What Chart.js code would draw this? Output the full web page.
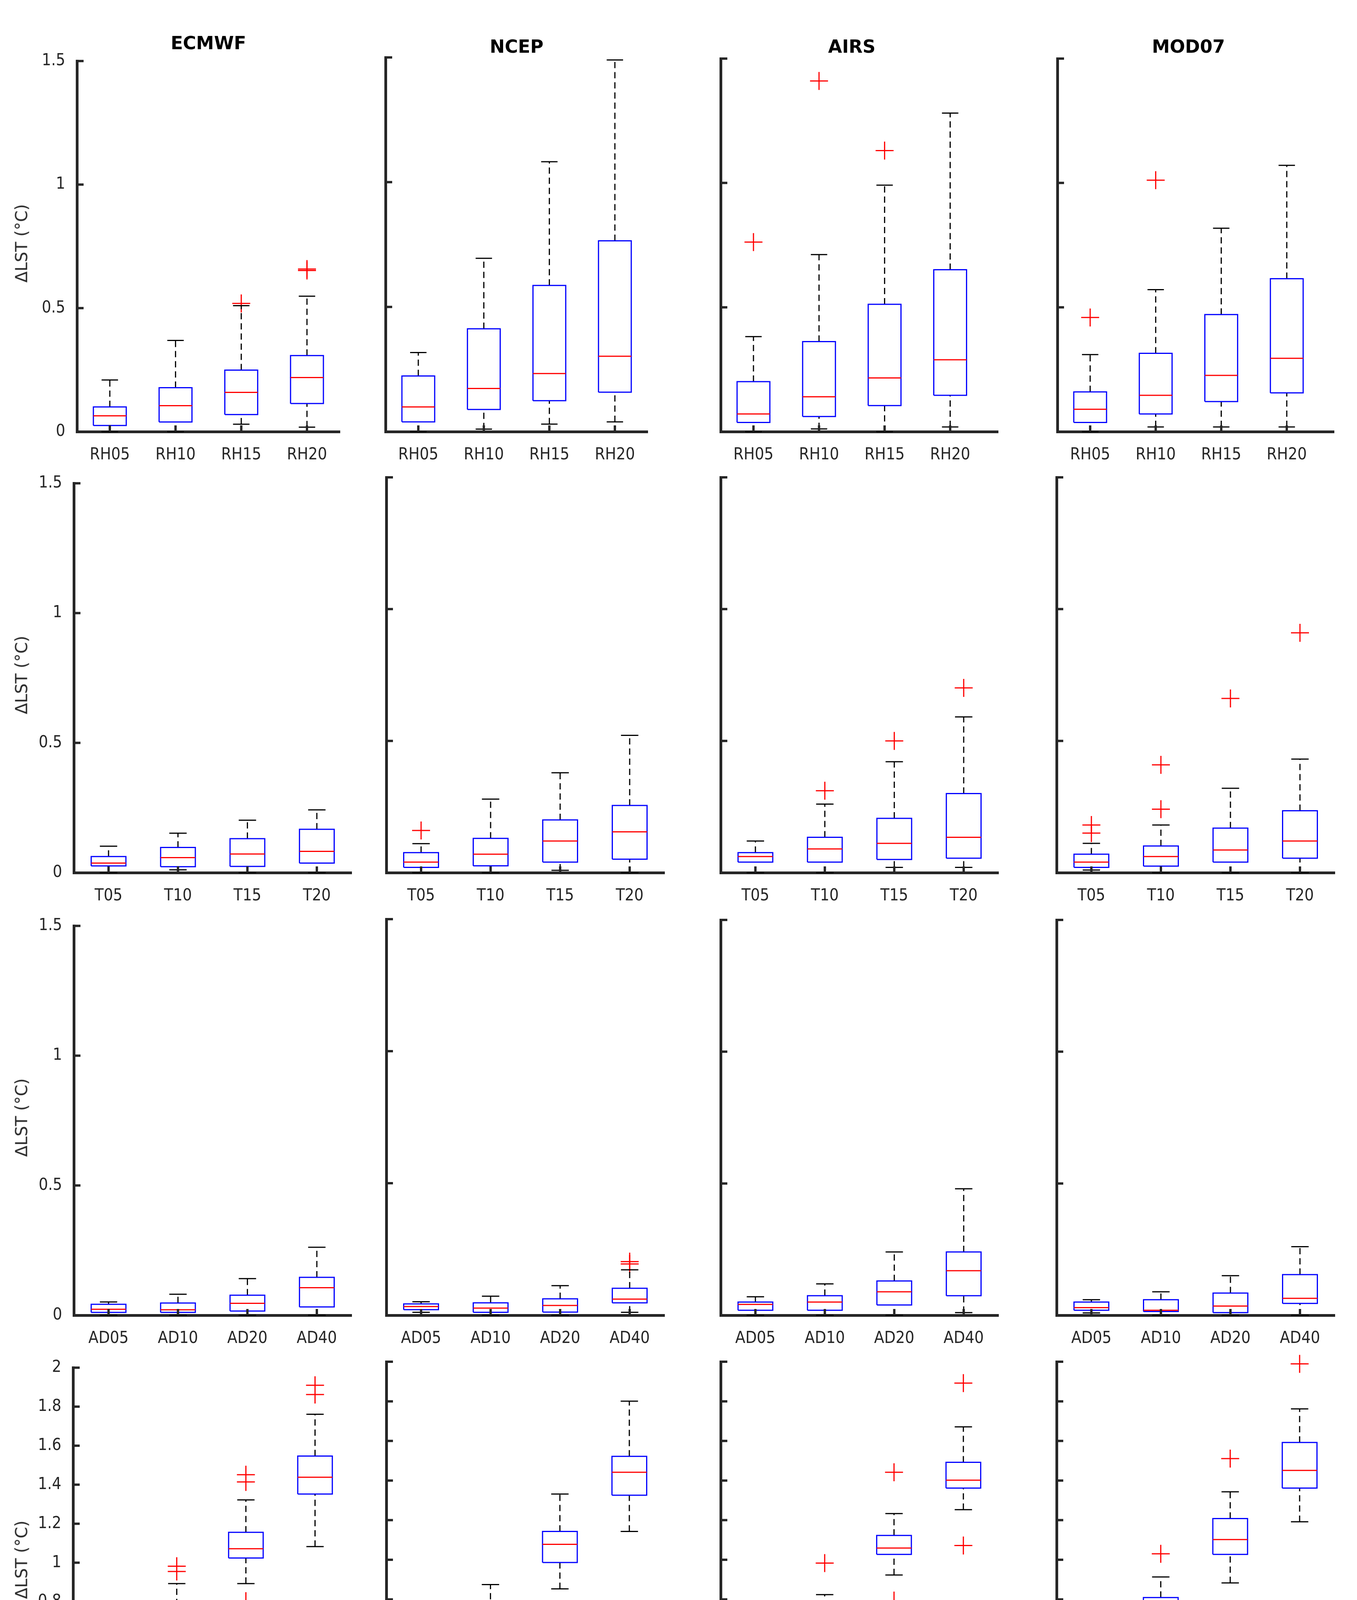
<!DOCTYPE html>
<html lang="en">
<head>
<meta charset="UTF-8">
<title>LST sensitivity box plots</title>
<script src="https://cdn.jsdelivr.net/npm/chart.js"></script>
<style>
  html, body { margin: 0; padding: 0; background: #fff; }
  #page { position: relative; width: 3474px; height: 4805px; overflow: hidden; }
  canvas { position: absolute; }
  .lbl { position: absolute; transform: translate(-50%, -50%); line-height: 1; white-space: nowrap; color: #000; }
  .title { font: bold 46px "DejaVu Sans", sans-serif; }
  .letter { font: bold 58px "Liberation Sans", Arial, sans-serif; }
  .ylab { font: 42px "DejaVu Sans", sans-serif; color: #262626; transform: translate(-50%, -50%) rotate(-90deg); }
</style>
</head>
<body>
<div id="page"></div>

<script>
// models (columns) and categories (rows)
const models = ['ECMWF', 'NCEP', 'AIRS', 'MOD07'];
const letters = ['(a)', '(b)', '(c)', '(d)'];
const rhCats = ['RH05', 'RH10', 'RH15', 'RH20'];
const tCats = ['T05', 'T10', 'T15', 'T20'];
const adCats = ['AD05', 'AD10', 'AD20', 'AD40'];
const eCats = ['e05', 'e10', 'e20', 'e40'];

// row 1: relative humidity; one inner array per model
const rhLo = [[0, 0, 0.030, 0.018], [0, 0.010, 0.030, 0.039], [0, 0.011, 0, 0.019], [0, 0.019, 0.019, 0.019]];
const rhQ1 = [[0.025, 0.039, 0.069, 0.114], [0.039, 0.089, 0.124, 0.158], [0.037, 0.061, 0.105, 0.146], [0.037, 0.071, 0.121, 0.156]];
const rhMed = [[0.064, 0.105, 0.159, 0.219], [0.099, 0.173, 0.233, 0.302], [0.071, 0.140, 0.216, 0.289], [0.090, 0.146, 0.226, 0.295]];
const rhQ3 = [[0.100, 0.178, 0.249, 0.308], [0.223, 0.412, 0.586, 0.765], [0.201, 0.362, 0.512, 0.651], [0.160, 0.315, 0.471, 0.615]];
const rhHi = [[0.209, 0.369, 0.510, 0.548], [0.317, 0.695, 1.082, 1.490], [0.382, 0.712, 0.991, 1.281], [0.310, 0.571, 0.818, 1.071]];
const rhOut = [[[], [], [0.519], [0.652, 0.658]], [[], [], [], []], [[0.762], [1.410], [1.130], []], [[0.459], [1.011], [], []]];

// row 2: temperature
const tLo = [[0, 0.011, 0, 0], [0, 0, 0.009, 0], [0, 0, 0.020, 0.020], [0.010, 0, 0, 0]];
const tQ1 = [[0.026, 0.023, 0.024, 0.037], [0.020, 0.026, 0.040, 0.051], [0.040, 0.040, 0.050, 0.055], [0.020, 0.025, 0.040, 0.055]];
const tMed = [[0.037, 0.058, 0.072, 0.082], [0.040, 0.070, 0.120, 0.155], [0.061, 0.090, 0.111, 0.134], [0.040, 0.061, 0.086, 0.120]];
const tQ3 = [[0.062, 0.097, 0.131, 0.167], [0.076, 0.130, 0.200, 0.255], [0.076, 0.134, 0.206, 0.300], [0.070, 0.101, 0.169, 0.235]];
const tHi = [[0.102, 0.152, 0.202, 0.242], [0.110, 0.279, 0.379, 0.521], [0.120, 0.260, 0.421, 0.591], [0.111, 0.181, 0.320, 0.431]];
const tOut = [[[], [], [], []], [[0.160], [], [], []], [[], [0.311], [0.500], [0.701]], [[0.150, 0.181], [0.241, 0.409], [0.661], [0.910]]];

// row 3: aerosol
const adLo = [[0, 0, 0, 0], [0.011, 0, 0, 0.011], [0, 0, 0, 0.010], [0.009, 0, 0, 0]];
const adQ1 = [[0.011, 0.011, 0.016, 0.032], [0.021, 0.011, 0.012, 0.047], [0.019, 0.019, 0.039, 0.074], [0.019, 0.014, 0.010, 0.045]];
const adMed = [[0.023, 0.021, 0.046, 0.106], [0.033, 0.027, 0.037, 0.061], [0.041, 0.050, 0.089, 0.169], [0.029, 0.019, 0.035, 0.064]];
const adQ3 = [[0.042, 0.047, 0.077, 0.146], [0.043, 0.047, 0.062, 0.102], [0.050, 0.074, 0.130, 0.240], [0.050, 0.059, 0.084, 0.154]];
const adHi = [[0.051, 0.081, 0.141, 0.262], [0.051, 0.072, 0.112, 0.172], [0.070, 0.119, 0.240, 0.480], [0.059, 0.089, 0.150, 0.260]];
const adOut = [[[], [], [], []], [[], [], [], [0.194, 0.203]], [[], [], [], []], [[], [], [], []]];

// row 4: emissivity
const eLo = [[0.242, 0.614, 0.893, 1.083], [0.262, 0.555, 0.853, 1.143], [0.232, 0.605, 0.923, 1.253], [0.262, 0.574, 0.883, 1.192]];
const eQ1 = [[0.323, 0.690, 1.024, 1.352], [0.307, 0.654, 0.986, 1.326], [0.317, 0.680, 1.027, 1.362], [0.344, 0.693, 1.027, 1.362]];
const eMed = [[0.374, 0.729, 1.072, 1.438], [0.338, 0.710, 1.078, 1.442], [0.374, 0.714, 1.059, 1.402], [0.374, 0.734, 1.102, 1.451]];
const eQ3 = [[0.415, 0.783, 1.156, 1.547], [0.374, 0.749, 1.143, 1.522], [0.400, 0.764, 1.123, 1.492], [0.415, 0.809, 1.208, 1.592]];
const eHi = [[0.514, 0.893, 1.322, 1.761], [0.456, 0.875, 1.332, 1.801], [0.435, 0.824, 1.233, 1.671], [0.484, 0.913, 1.343, 1.762]];
const eOut = [[[], [0.523, 0.955, 0.982], [0.803, 1.414, 1.451], [1.862, 1.910]], [[], [], [], []], [[0.523], [0.514, 0.983], [0.794, 1.442], [1.072, 1.892]], [[0.544], [1.030], [1.511], [1.989]]];

const rows = [
  { cats: rhCats, lo: rhLo, q1: rhQ1, med: rhMed, q3: rhQ3, hi: rhHi, out: rhOut, yMax: 1.5, step: 0.5 },
  { cats: tCats, lo: tLo, q1: tQ1, med: tMed, q3: tQ3, hi: tHi, out: tOut, yMax: 1.5, step: 0.5 },
  { cats: adCats, lo: adLo, q1: adQ1, med: adMed, q3: adQ3, hi: adHi, out: adOut, yMax: 1.5, step: 0.5 },
  { cats: eCats, lo: eLo, q1: eQ1, med: eMed, q3: eQ3, hi: eHi, out: eOut, yMax: 2, step: 0.2 }
];

// page geometry (pixels) of each plot area
const geom = [
  { top: [141, 147, 150, 150], bottom: 1105, left: [197, 987, 1845, 2707], right: [870, 1658, 2555, 3415], xMax: [4.5, 4.5, 4.73, 4.72] },
  { top: [1222, 1222, 1222, 1222], bottom: 2234, left: [189, 989, 1845, 2705], right: [900, 1701, 2556, 3417], xMax: [4.5, 4.5, 4.5, 4.5] },
  { top: [2355, 2353, 2355, 2355], bottom: 3367, left: [189, 989, 1845, 2705], right: [900, 1701, 2556, 3417], xMax: [4.5, 4.5, 4.5, 4.5] },
  { top: [3486, 3486, 3486, 3486], bottom: 4500, left: [187, 989, 1845, 2705], right: [895, 1700, 2555, 3416], xMax: [4.5, 4.5, 4.5, 4.5] }
];

const PAD_L = 170, PAD_R = 40, PAD_T = 40, PAD_B = 110;
const axisColor = '#262626';
const tickFont = { family: '"DejaVu Sans Condensed", "Liberation Sans Narrow", "DejaVu Sans", sans-serif', size: 42 };

const page = document.getElementById('page');

function addLabel(text, cls, x, y) {
  const d = document.createElement('div');
  d.className = 'lbl ' + cls;
  d.textContent = text;
  d.style.left = x + 'px';
  d.style.top = y + 'px';
  page.appendChild(d);
}

// tick marks pointing into the plot, as in the original figure
const inTicks = {
  id: 'inTicks',
  afterDraw(chart) {
    const { ctx, chartArea: a, scales: { x, y } } = chart;
    ctx.save();
    ctx.strokeStyle = axisColor;
    ctx.lineWidth = 6;
    ctx.beginPath();
    y.ticks.forEach(t => {
      const py = y.getPixelForValue(t.value);
      ctx.moveTo(a.left, py);
      ctx.lineTo(a.left + 17, py);
    });
    x.ticks.forEach(t => {
      const px = x.getPixelForValue(t.value);
      ctx.moveTo(px, a.bottom);
      ctx.lineTo(px, a.bottom - 16);
    });
    ctx.stroke();
    ctx.restore();
  }
};

function boxDatasets(row, m) {
  const W = 0.25, C = 0.125;
  const boxes = [], meds = [], whisk = [], caps = [], outs = [];
  for (let i = 0; i < row.cats.length; i++) {
    const x = i + 1;
    const q1 = row.q1[m][i], q3 = row.q3[m][i], md = row.med[m][i];
    const lo = row.lo[m][i], hi = row.hi[m][i];
    boxes.push({ x: x - W, y: q1 }, { x: x + W, y: q1 }, { x: x + W, y: q3 }, { x: x - W, y: q3 }, { x: x - W, y: q1 }, { x: x, y: null });
    meds.push({ x: x - W, y: md }, { x: x + W, y: md }, { x: x, y: null });
    whisk.push({ x: x, y: q3 }, { x: x, y: hi }, { x: x, y: null }, { x: x, y: lo }, { x: x, y: q1 }, { x: x, y: null });
    caps.push({ x: x - C, y: hi }, { x: x + C, y: hi }, { x: x, y: null }, { x: x - C, y: lo }, { x: x + C, y: lo }, { x: x, y: null });
    row.out[m][i].forEach(v => outs.push({ x: x, y: v }));
  }
  const lineSet = (data, color, dash) => ({
    data: data, showLine: true, spanGaps: false, borderColor: color, borderWidth: 3,
    borderDash: dash || [], borderJoinStyle: 'miter', pointRadius: 0, pointHoverRadius: 0, clip: false
  });
  return [
    lineSet(meds, '#ff0000'),
    lineSet(boxes, '#0000ff'),
    lineSet(caps, '#000000'),
    lineSet(whisk, '#000000', [16, 10]),
    {
      data: outs, showLine: false, pointStyle: 'cross', pointRadius: 23, pointHoverRadius: 23,
      pointBorderColor: '#ff0000', pointBackgroundColor: '#ff0000', pointBorderWidth: 3, clip: false
    }
  ];
}

rows.forEach((row, r) => {
  const g = geom[r];
  models.forEach((name, m) => {
    const left = g.left[m], right = g.right[m], top = g.top[m], bottom = g.bottom;
    const cv = document.createElement('canvas');
    const w = right - left + PAD_L + PAD_R;
    const h = bottom - top + PAD_T + PAD_B;
    cv.width = w; cv.height = h;
    cv.style.width = w + 'px'; cv.style.height = h + 'px';
    cv.style.left = (left - PAD_L) + 'px';
    cv.style.top = (top - PAD_T) + 'px';
    page.appendChild(cv);

    new Chart(cv, {
      type: 'scatter',
      data: { datasets: boxDatasets(row, m) },
      options: {
        responsive: false,
        animation: false,
        events: [],
        devicePixelRatio: 1,
        layout: { padding: { top: PAD_T, right: PAD_R, left: 0, bottom: 0 } },
        plugins: { legend: { display: false }, tooltip: { enabled: false } },
        scales: {
          x: {
            type: 'linear', min: 0.5, max: g.xMax[m],
            grid: { display: false, drawTicks: false },
            border: { display: true, color: axisColor, width: 7 },
            afterBuildTicks: s => { s.ticks = row.cats.map((c, i) => ({ value: i + 1 })); },
            afterFit: s => { s.height = PAD_B; },
            ticks: { callback: (v, i) => row.cats[i], font: tickFont, color: axisColor, padding: 35, maxRotation: 0, autoSkip: false }
          },
          y: {
            type: 'linear', min: 0, max: row.yMax,
            grid: { display: false, drawTicks: false },
            border: { display: true, color: axisColor, width: 7 },
            afterFit: s => { s.width = PAD_L; },
            ticks: {
              stepSize: row.step, display: m === 0, font: tickFont, color: axisColor, padding: 30,
              callback: v => String(+v.toFixed(1))
            }
          }
        }
      },
      plugins: [inTicks]
    });

    if (r === 0) {
      // title sits over the 0.5..4.5 span
      const span = (right - left) * 4 / (g.xMax[m] - 0.5);
      addLabel(name, 'title', left + span / 2, m === 0 ? 110 : 119);
    }
    if (m === 0) addLabel('\u0394LST (\u00b0C)', 'ylab', 55, (top + bottom) / 2);
  });
});

[546, 1359, 2227, 3091].forEach((x, i) => addLabel(letters[i], 'letter', x, 4715));
</script>
</body>
</html>
